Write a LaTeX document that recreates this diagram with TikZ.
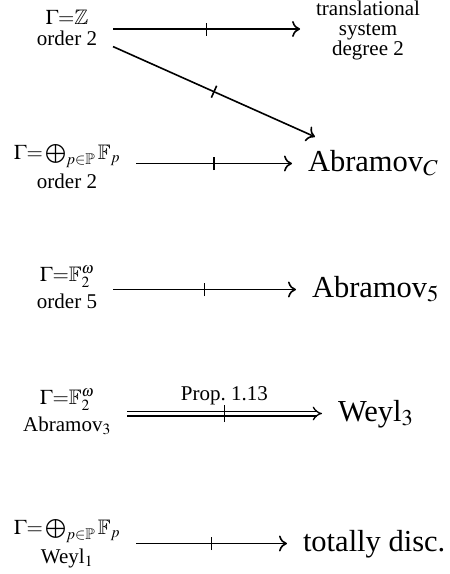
\documentclass[tikz,border=0pt]{standalone}
\usepackage{amssymb}
\usepackage{mathptmx}
\usepackage{fontspec}
\setmainfont{Liberation Serif}
\usetikzlibrary{arrows.meta,decorations.markings,calc}
\begin{document}
\begin{tikzpicture}[x=1pt,y=-1pt,
  small/.style={font=\fontsize{21}{20}\selectfont, execute at begin node={\setlength{\lineskip}{6pt}\setlength{\lineskiplimit}{6pt}}, inner sep=0pt, outer sep=0pt, align=center},
  tight/.style={small, execute at begin node={\setlength{\lineskip}{0pt}\setlength{\lineskiplimit}{-10pt}}},
  big/.style={font=\fontsize{30.5}{34}\selectfont, inner sep=0pt, outer sep=0pt},
  tickmark/.style={postaction={decorate}, decoration={markings, mark=at position 0.5 with {\draw[-, line width=1.6pt, shorten <=0pt, shorten >=0pt] (0,-#1)--(0,#1);}}},
  arr/.style={line width=1.6pt, -{Computer Modern Rightarrow[length=8pt,width=16pt]}, shorten <=16pt, shorten >=16pt, tickmark=6.5pt},
  darr/.style={line width=1.3pt, double, double distance=3.4pt, -{Implies[length=10pt,width=20pt]}, shorten <=16pt, shorten >=16pt, tickmark=8.5pt},
]
\useasboundingbox (0,0) rectangle (450,574);

% left column (anchor base = baseline of last line)
\node[small, anchor=base] (L1) at (67,45) {$\Gamma{=}\mathbb{Z}$\\order 2};
\node[small, anchor=base] (L2) at (67,188) {$\Gamma{=}\bigoplus_{p\in\mathbb{P}}\mathbb{F}_p$\\order 2};
\node[small, anchor=base] (L3) at (67,308) {$\Gamma{=}\mathbb{F}_2^{\omega}$\\order 5};
\node[small, anchor=base] (L4) at (67,431) {$\Gamma{=}\mathbb{F}_2^{\omega}$\\Abramov$_3$};
\node[small, anchor=base] (L5) at (67,563) {$\Gamma{=}\bigoplus_{p\in\mathbb{P}}\mathbb{F}_p$\\Weyl$_1$};

% right column
\node[tight, anchor=base] (R1) at (368,55) {translational\\system\\degree 2};
\node[big, anchor=base west] (R2) at (308,171) {Abramov$_C$};
\node[big, anchor=base west] (R3) at (312,297) {Abramov$_5$};
\node[big, anchor=base west] (R4) at (338,421) {Weyl$_3$};
\node[big, anchor=base west] (R5) at (303,551) {totally disc.};

\coordinate (a1) at ([yshift=26pt]R1.base west);
\coordinate (a2) at ([yshift=7.5pt]R2.base west);
\coordinate (a3) at ([yshift=7.5pt]R3.base west);
\coordinate (a4) at ([yshift=7.5pt]R4.base west);
\coordinate (a5) at ([yshift=7.5pt]R5.base west);

\draw[arr] (L1.east |- a1) -- (a1);
\draw[arr, shorten <=0pt, shorten >=0pt] ([xshift=16pt,yshift=-19pt]L1.east) -- ([xshift=7pt,yshift=13pt]R2.north west);
\draw[arr] (L2.east |- a2) -- (a2);
\draw[arr] (L3.east |- a3) -- (a3);
\draw[darr] (L4.east |- a4) -- node[small, above=8.5pt] (P) {Prop.\ 1.13} (a4);
\draw[arr] (L5.east |- a5) -- (a5);
\end{tikzpicture}
\end{document}
